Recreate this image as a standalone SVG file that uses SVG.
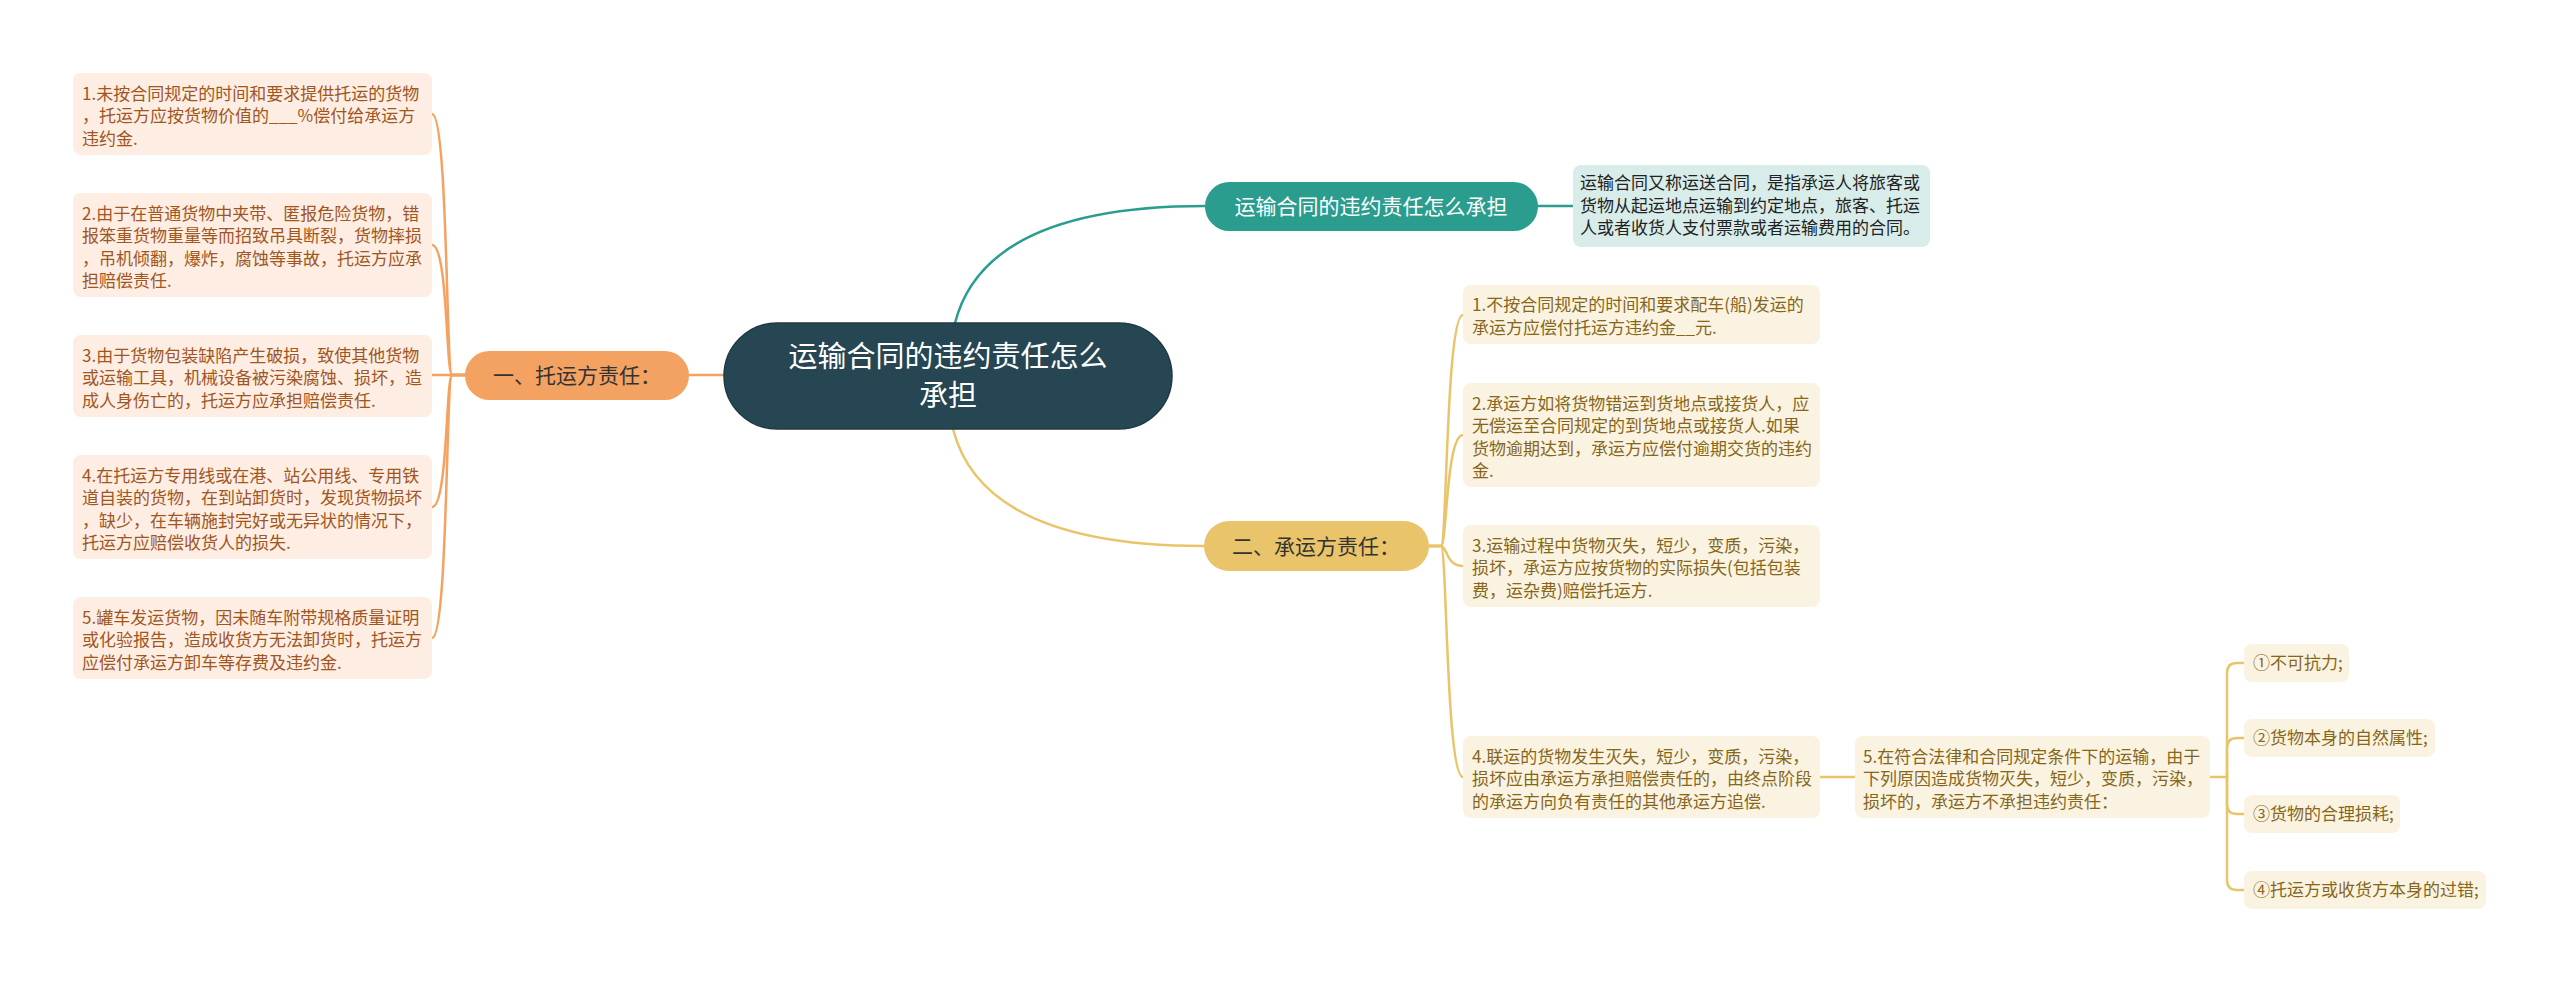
<svg xmlns="http://www.w3.org/2000/svg" width="2560" height="983" viewBox="0 0 2560 983">
<style>
text{font-family:"Noto Sans CJK SC","Noto Sans",sans-serif;}
.c{fill:none;stroke-width:2.5;stroke-linecap:round}
.co{stroke:#f4a261}
.cy{stroke:#e9c46a}
.ct{stroke:#2a9d8f}
.lb{fill:#fdede2}
.lt{fill:#a0561f;font-size:17px}
.rb{fill:#fbf3e1}
.rt{fill:#86671a;font-size:17px}
.db{fill:#d8ecea}
.dt{fill:#222;font-size:17px}
.mt{font-size:21px;text-anchor:middle}
</style>
<rect width="2560" height="983" fill="#fff"/>
<g id="connectors">
<path class="c ct" d="M955 323 Q985 206 1205 206"/>
<path class="c ct" d="M1538 206 H1573"/>
<path class="c cy" d="M953 429 Q983 546 1204 546"/>
<path class="c co" d="M690 375 H728"/>
<path class="c co" d="M465 375 H452 C446 375 448 114 432 114"/>
<path class="c co" d="M465 375 H452 C446 375 448 245 432 245"/>
<path class="c co" d="M465 375 H432"/>
<path class="c co" d="M465 375 H452 C446 375 448 507 432 507"/>
<path class="c co" d="M465 375 H452 C446 375 448 638 432 638"/>
<path class="c cy" d="M1429 546 H1441 C1447 546 1446 315 1463 315"/>
<path class="c cy" d="M1429 546 H1441 C1447 546 1446 435 1463 435"/>
<path class="c cy" d="M1429 546 H1441 C1447 546 1446 566 1463 566"/>
<path class="c cy" d="M1429 546 H1441 C1447 546 1446 777 1463 777"/>
<path class="c cy" d="M1820 777 H1855"/>
<path class="c cy" d="M2210 777 H2227"/>
<path class="c cy" d="M2227 777 V673 Q2227 663 2237 663 H2244"/>
<path class="c cy" d="M2227 777 V748 Q2227 738 2237 738 H2244"/>
<path class="c cy" d="M2227 777 V804 Q2227 814 2237 814 H2244"/>
<path class="c cy" d="M2227 777 V880 Q2227 890 2237 890 H2244"/>
</g>
<g id="root">
<rect x="724" y="323" width="448" height="106" rx="53" fill="#264653" stroke="#1e3a45" stroke-width="1.5"/>
<text x="948" y="367" fill="#fff" font-size="29" text-anchor="middle">运输合同的违约责任怎么</text>
<text x="948" y="406" fill="#fff" font-size="29" text-anchor="middle">承担</text>
</g>
<g id="node-teal">
<rect x="1205" y="182" width="333" height="49" rx="24.5" fill="#2a9d8f"/>
<text class="mt" x="1371" y="214" fill="#fff">运输合同的违约责任怎么承担</text>
</g>
<g id="node-desc">
<rect class="db" x="1573" y="165" width="357" height="82" rx="8"/>
<text class="dt" x="1580" y="189">运输合同又称运送合同，是指承运人将旅客或</text>
<text class="dt" x="1580" y="211.5">货物从起运地点运输到约定地点，旅客、托运</text>
<text class="dt" x="1580" y="234">人或者收货人支付票款或者运输费用的合同。</text>
</g>
<g id="node-shipper">
<rect x="465" y="351" width="224" height="49" rx="24.5" fill="#f4a261"/>
<text class="mt" x="577" y="383" fill="#333">一、托运方责任：</text>
</g>
<g id="node-carrier">
<rect x="1204" y="521" width="225" height="50" rx="25" fill="#e9c46a"/>
<text class="mt" x="1316" y="553.5" fill="#333">二、承运方责任：</text>
</g>
<g id="left-1">
<rect class="lb" x="73" y="73" width="359" height="82" rx="8"/>
<text class="lt" x="82" y="99.5">1.未按合同规定的时间和要求提供托运的货物</text>
<text class="lt" x="82" y="122">，托运方应按货物价值的___%偿付给承运方</text>
<text class="lt" x="82" y="144.5">违约金.</text>
</g>
<g id="left-2">
<rect class="lb" x="73" y="193" width="359" height="104" rx="8"/>
<text class="lt" x="82" y="219.5">2.由于在普通货物中夹带、匿报危险货物，错</text>
<text class="lt" x="82" y="242">报笨重货物重量等而招致吊具断裂，货物摔损</text>
<text class="lt" x="82" y="264.5">，吊机倾翻，爆炸，腐蚀等事故，托运方应承</text>
<text class="lt" x="82" y="287">担赔偿责任.</text>
</g>
<g id="left-3">
<rect class="lb" x="73" y="335" width="359" height="82" rx="8"/>
<text class="lt" x="82" y="361.5">3.由于货物包装缺陷产生破损，致使其他货物</text>
<text class="lt" x="82" y="384">或运输工具，机械设备被污染腐蚀、损坏，造</text>
<text class="lt" x="82" y="406.5">成人身伤亡的，托运方应承担赔偿责任.</text>
</g>
<g id="left-4">
<rect class="lb" x="73" y="455" width="359" height="104" rx="8"/>
<text class="lt" x="82" y="481.5">4.在托运方专用线或在港、站公用线、专用铁</text>
<text class="lt" x="82" y="504">道自装的货物，在到站卸货时，发现货物损坏</text>
<text class="lt" x="82" y="526.5">，缺少，在车辆施封完好或无异状的情况下，</text>
<text class="lt" x="82" y="549">托运方应赔偿收货人的损失.</text>
</g>
<g id="left-5">
<rect class="lb" x="73" y="597" width="359" height="82" rx="8"/>
<text class="lt" x="82" y="623.5">5.罐车发运货物，因未随车附带规格质量证明</text>
<text class="lt" x="82" y="646">或化验报告，造成收货方无法卸货时，托运方</text>
<text class="lt" x="82" y="668.5">应偿付承运方卸车等存费及违约金.</text>
</g>
<g id="right-1">
<rect class="rb" x="1463" y="285" width="357" height="59" rx="8"/>
<text class="rt" x="1472" y="311">1.不按合同规定的时间和要求配车(船)发运的</text>
<text class="rt" x="1472" y="333.5">承运方应偿付托运方违约金__元.</text>
</g>
<g id="right-2">
<rect class="rb" x="1463" y="383" width="357" height="104" rx="8"/>
<text class="rt" x="1472" y="409.5">2.承运方如将货物错运到货地点或接货人，应</text>
<text class="rt" x="1472" y="432">无偿运至合同规定的到货地点或接货人.如果</text>
<text class="rt" x="1472" y="454.5">货物逾期达到，承运方应偿付逾期交货的违约</text>
<text class="rt" x="1472" y="477">金.</text>
</g>
<g id="right-3">
<rect class="rb" x="1463" y="525" width="357" height="82" rx="8"/>
<text class="rt" x="1472" y="551.5">3.运输过程中货物灭失，短少，变质，污染，</text>
<text class="rt" x="1472" y="574">损坏，承运方应按货物的实际损失(包括包装</text>
<text class="rt" x="1472" y="596.5">费，运杂费)赔偿托运方.</text>
</g>
<g id="right-4">
<rect class="rb" x="1463" y="736" width="357" height="82" rx="8"/>
<text class="rt" x="1472" y="762.5">4.联运的货物发生灭失，短少，变质，污染，</text>
<text class="rt" x="1472" y="785">损坏应由承运方承担赔偿责任的，由终点阶段</text>
<text class="rt" x="1472" y="807.5">的承运方向负有责任的其他承运方追偿.</text>
</g>
<g id="right-5">
<rect class="rb" x="1855" y="736" width="355" height="82" rx="8"/>
<text class="rt" x="1863" y="762.5">5.在符合法律和合同规定条件下的运输，由于</text>
<text class="rt" x="1863" y="785">下列原因造成货物灭失，短少，变质，污染，</text>
<text class="rt" x="1863" y="807.5">损坏的，承运方不承担违约责任：</text>
</g>
<g id="sub-1">
<rect class="rb" x="2244" y="644" width="105" height="38" rx="8"/>
<text class="rt" x="2253" y="669">①不可抗力;</text>
</g>
<g id="sub-2">
<rect class="rb" x="2244" y="719" width="191" height="38" rx="8"/>
<text class="rt" x="2253" y="744">②货物本身的自然属性;</text>
</g>
<g id="sub-3">
<rect class="rb" x="2244" y="795" width="156" height="38" rx="8"/>
<text class="rt" x="2253" y="820">③货物的合理损耗;</text>
</g>
<g id="sub-4">
<rect class="rb" x="2244" y="871" width="242" height="38" rx="8"/>
<text class="rt" x="2253" y="896">④托运方或收货方本身的过错;</text>
</g>
</svg>
